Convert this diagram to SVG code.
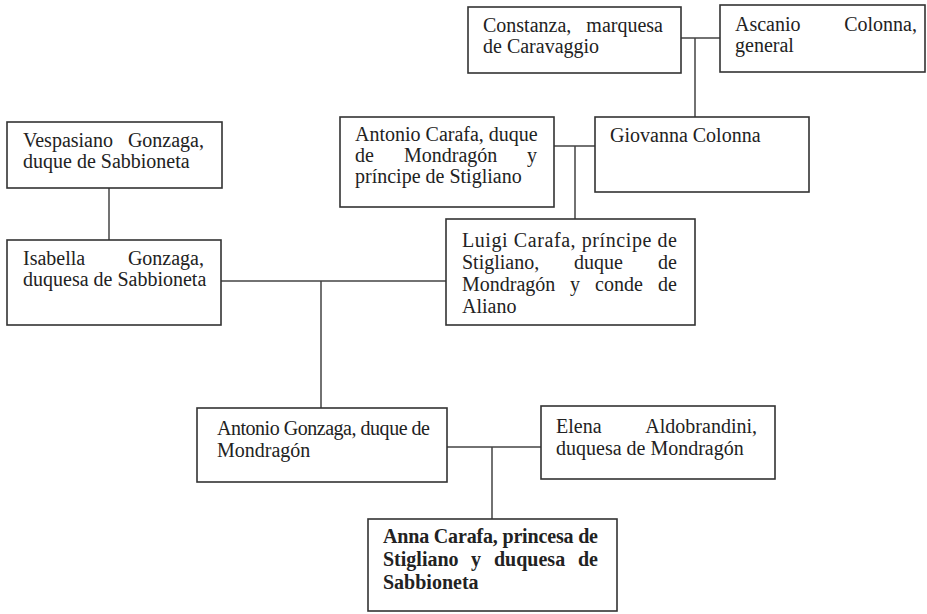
<svg xmlns="http://www.w3.org/2000/svg" width="927" height="614" viewBox="0 0 927 614">
<style>
.box{fill:#fff;stroke:#333;stroke-width:1.6}
.c{stroke:#444;stroke-width:1.5;fill:none}
text{font-family:"Liberation Serif","Times New Roman",serif;font-size:20px;fill:#222}
.b{font-weight:bold}
.e{text-anchor:end}
</style>
<rect width="927" height="614" fill="#fff"/>
<g id="connectors">
<path class="c" d="M681,38H720M695,38V117"/>
<path class="c" d="M554,146H595M575,146V219"/>
<path class="c" d="M109,188V240"/>
<path class="c" d="M221,281H446M321,281V408"/>
<path class="c" d="M447,447H541M492,447V519"/>
</g>
<g id="constanza">
<rect class="box" x="468" y="7" width="213" height="66"/>
<text x="483" y="32">Constanza,</text><text class="e" x="663" y="32">marquesa</text>
<text x="483" y="53">de Caravaggio</text>
</g>
<g id="ascanio">
<rect class="box" x="720" y="5" width="205" height="67"/>
<text x="735" y="31">Ascanio</text><text class="e" x="917" y="31">Colonna,</text>
<text x="735" y="52">general</text>
</g>
<g id="vespasiano">
<rect class="box" x="7" y="122" width="215" height="66"/>
<text x="23" y="147">Vespasiano</text><text class="e" x="204" y="147">Gonzaga,</text>
<text x="23" y="168">duque de Sabbioneta</text>
</g>
<g id="antonio-carafa">
<rect class="box" x="340" y="117" width="214" height="90"/>
<text x="355" y="141">Antonio Carafa, duque</text>
<text x="355" y="162">de</text><text x="404" y="162">Mondragón</text><text class="e" x="537" y="162">y</text>
<text x="355" y="183">príncipe de Stigliano</text>
</g>
<g id="giovanna">
<rect class="box" x="595" y="117" width="214" height="75"/>
<text x="610" y="142">Giovanna Colonna</text>
</g>
<g id="isabella">
<rect class="box" x="7" y="240" width="214" height="85"/>
<text x="23" y="265">Isabella</text><text class="e" x="204" y="265">Gonzaga,</text>
<text x="23" y="286">duquesa de Sabbioneta</text>
</g>
<g id="luigi">
<rect class="box" x="446" y="219" width="249" height="106"/>
<text x="462" y="247" textLength="215" lengthAdjust="spacing">Luigi Carafa, príncipe de</text>
<text x="462" y="269">Stigliano,</text><text x="574" y="269">duque</text><text class="e" x="677" y="269">de</text>
<text x="462" y="291">Mondragón</text><text x="570" y="291">y</text><text x="595" y="291">conde</text><text class="e" x="677" y="291">de</text>
<text x="462" y="313">Aliano</text>
</g>
<g id="antonio-gonzaga">
<rect class="box" x="197" y="408" width="250" height="74"/>
<text x="217" y="435" textLength="213" lengthAdjust="spacing">Antonio Gonzaga, duque de</text>
<text x="217" y="457">Mondragón</text>
</g>
<g id="elena">
<rect class="box" x="541" y="406" width="234" height="73"/>
<text x="556" y="433">Elena</text><text class="e" x="757" y="433">Aldobrandini,</text>
<text x="556" y="455">duquesa de Mondragón</text>
</g>
<g id="anna">
<rect class="box" x="368" y="519" width="249" height="92"/>
<text class="b" x="383" y="543" textLength="215" lengthAdjust="spacing">Anna Carafa, princesa de</text>
<text class="b" x="383" y="566">Stigliano</text><text class="b" x="471" y="566">y</text><text class="b" x="494" y="566">duquesa</text><text class="b e" x="598" y="566">de</text>
<text class="b" x="383" y="589">Sabbioneta</text>
</g>
</svg>
